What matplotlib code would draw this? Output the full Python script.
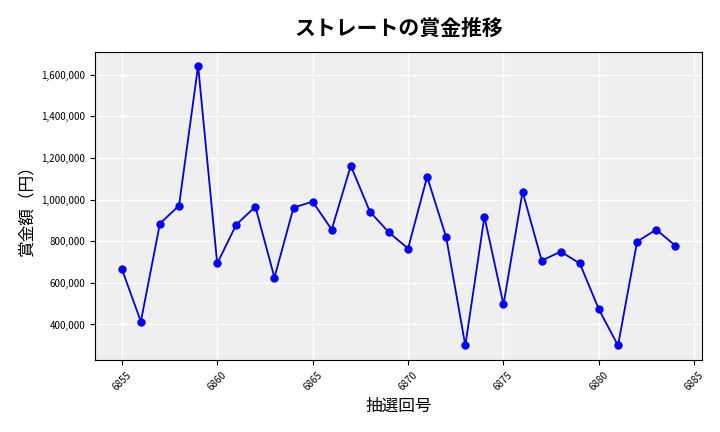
import matplotlib
matplotlib.use("Agg")
import matplotlib.pyplot as plt
from matplotlib.ticker import FuncFormatter

plt.rcParams['font.family'] = ['Noto Sans CJK JP', 'DejaVu Sans']

draws = list(range(6855, 6885))
prizes = [668000, 414000, 885000, 971000, 1643000, 693000, 880000, 966000, 625000, 962000,
          990000, 856000, 1163000, 942000, 842000, 765000, 1110000, 818000, 299000, 918000,
          496000, 1038000, 707000, 750000, 693000, 472000, 299000, 798000, 856000, 779000]

fig = plt.figure(figsize=(7.2, 4.32), dpi=100)
ax = fig.add_axes([0.132, 0.167, 0.843, 0.713])
ax.set_facecolor('#efefef')
ax.grid(True, color='white', linewidth=1)
ax.set_axisbelow(True)
ax.plot(draws, prizes, color='#0000dd', marker='o', markersize=5, linewidth=1.3,
        markerfacecolor='blue', markeredgecolor='blue')
ax.yaxis.set_major_formatter(FuncFormatter(lambda v, p: f'{int(v):,}'))
ax.set_xticks(range(6855, 6886, 5))
ax.tick_params(axis='x', labelrotation=45, labelsize=7)
ax.tick_params(axis='y', labelsize=7)
ax.set_xlim(6853.6, 6885.4)
ax.set_ylim(230000, 1710000)
ax.set_xlabel('抽選回号', fontsize=12)
ax.set_ylabel('賞金額（円）', fontsize=12)
ax.set_title('ストレートの賞金推移', fontsize=15, fontweight='bold', pad=12)
fig.savefig('out.png')
